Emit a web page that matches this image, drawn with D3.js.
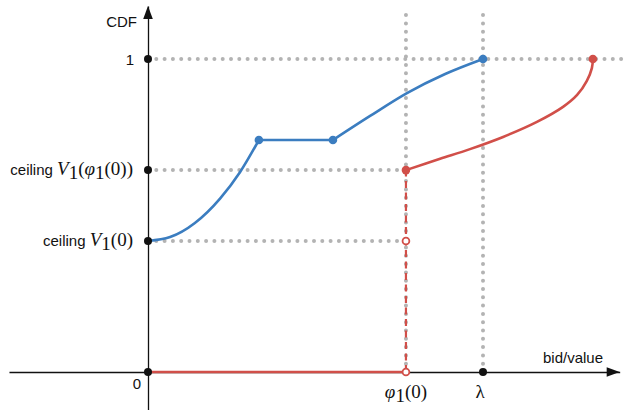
<!DOCTYPE html>
<html>
<head>
<meta charset="utf-8">
<script src="https://cdn.jsdelivr.net/npm/d3@7"></script>
<style>
  html, body { margin: 0; padding: 0; background: #fff; }
  svg { display: block; }
  .sans { font-family: "Liberation Sans", Arial, Helvetica, sans-serif; font-size: 15px; fill: #111; }
  .math { font-family: "Liberation Serif", "DejaVu Serif", serif; font-size: 19px; fill: #111; }
</style>
</head>
<body>
<svg id="chart" width="632" height="410"></svg>
<script>
// ---- data ----
const phi0 = 0.770;        // φ1(0) on the bid/value axis
const lambda = 1.0;        // λ
const ceilV0 = 0.4185;     // ceiling V1(0)
const ceilVphi = 0.645;    // ceiling V1(φ1(0))

const yTickValues = [0, ceilV0, ceilVphi, 1];
const xTickValues = [0, phi0, lambda];

// blue CDF: rising convex part, flat part, concave part
const blueRise = [[0, 0.4185], [0.066, 0.431], [0.140, 0.476], [0.215, 0.554], [0.275, 0.639], [0.331, 0.741]];
const blueFlat = [[0.331, 0.741], [0.552, 0.741]];
const blueTop  = [[0.552, 0.741], [0.663, 0.818], [0.773, 0.891], [0.887, 0.952], [1.0, 1.0]];
const blueDots = [[0.331, 0.741], [0.552, 0.741], [1.0, 1.0]];

// red CDF
const redBase  = [[0, 0], [0.770, 0]];
const redJump  = [[0.770, 0], [0.770, 0.645]];
const redCurve = [[0.770, 0.645], [0.872, 0.681], [0.961, 0.712], [1.060, 0.751], [1.161, 0.799],
                  [1.239, 0.847], [1.281, 0.885], [1.310, 0.930], [1.325, 0.971], [1.328, 1.0]];
const redFilled = [[0.770, 0.645], [1.328, 1.0]];
const redOpen   = [[0.770, 0.4185], [0.770, 0]];

// axis extents in data units
const xAxisExtent = [-0.415, 1.408];
const yAxisExtent = [-0.121, 1.169];
const guideTop = 1.163;
const guideRight = 1.43;

// ---- drawing ----
const svg = d3.select("#chart");
const x = d3.scaleLinear().domain([0, 1]).range([148, 483]);
const y = d3.scaleLinear().domain([0, 1]).range([372, 59]);

const BLUE = "#3b7dc0", RED = "#d14f49", GRAY = "#b3b3b3";
const line = d3.line().x(d => x(d[0])).y(d => y(d[1]));
const lineMX = d3.line().x(d => x(d[0])).y(d => y(d[1])).curve(d3.curveMonotoneX);
const lineCR = d3.line().x(d => x(d[0])).y(d => y(d[1])).curve(d3.curveCatmullRom.alpha(0.5));

// gray dotted guides
const guides = svg.append("g")
  .attr("fill", "none").attr("stroke", GRAY).attr("stroke-width", 4)
  .attr("stroke-linecap", "round").attr("stroke-dasharray", "0 8.3");
[phi0, lambda].forEach(v => guides.append("path").attr("d", line([[v, 0], [v, guideTop]])));
[[ceilV0, phi0], [ceilVphi, phi0], [1, guideRight]].forEach(([yy, xe]) =>
  guides.append("path").attr("d", line([[0, yy], [xe, yy]])));

// axes (lines via d3 axes, tick marks hidden)
const xScaleFull = x.copy().domain(xAxisExtent).range(xAxisExtent.map(x));
const yScaleFull = y.copy().domain(yAxisExtent).range(yAxisExtent.map(y));
svg.append("g").attr("transform", `translate(0,${y(0)})`)
  .call(d3.axisBottom(xScaleFull).tickValues([]).tickSizeOuter(0))
  .call(g => g.select(".domain").attr("stroke", "#111").attr("stroke-width", 1.3));
svg.append("g").attr("transform", `translate(${x(0)},0)`)
  .call(d3.axisLeft(yScaleFull).tickValues([]).tickSizeOuter(0))
  .call(g => g.select(".domain").attr("stroke", "#111").attr("stroke-width", 1.3));

// arrowheads
const xr = x(xAxisExtent[1]), yt = y(yAxisExtent[1]);
svg.append("path").attr("fill", "#111")
  .attr("d", `M${xr},${y(0)} L${xr - 13},${y(0) - 4.8} L${xr - 13},${y(0) + 4.8} Z`);
svg.append("path").attr("fill", "#111")
  .attr("d", `M${x(0)},${yt} L${x(0) - 4.8},${yt + 13} L${x(0) + 4.8},${yt + 13} Z`);

// red series
svg.append("path").attr("d", line(redBase)).attr("fill", "none").attr("stroke", RED).attr("stroke-width", 2.4);
svg.append("path").attr("d", line(redJump)).attr("fill", "none").attr("stroke", RED).attr("stroke-width", 2.2)
  .attr("stroke-dasharray", "7 4.5");
svg.append("path").attr("d", lineCR(redCurve))
  .attr("fill", "none").attr("stroke", RED).attr("stroke-width", 2.6);

// blue series
svg.append("path").attr("d", lineMX(blueRise))
  .attr("fill", "none").attr("stroke", BLUE).attr("stroke-width", 2.6);
svg.append("path").attr("d", line(blueFlat))
  .attr("fill", "none").attr("stroke", BLUE).attr("stroke-width", 2.6);
svg.append("path").attr("d", lineMX(blueTop))
  .attr("fill", "none").attr("stroke", BLUE).attr("stroke-width", 2.6);

// points
svg.selectAll(".bdot").data(blueDots).join("circle")
  .attr("cx", d => x(d[0])).attr("cy", d => y(d[1])).attr("r", 4.3).attr("fill", BLUE);
svg.selectAll(".rdot").data(redFilled).join("circle")
  .attr("cx", d => x(d[0])).attr("cy", d => y(d[1])).attr("r", 4.3).attr("fill", RED);
svg.selectAll(".ropen").data(redOpen).join("circle")
  .attr("cx", d => x(d[0])).attr("cy", d => y(d[1])).attr("r", 3.4)
  .attr("fill", "#fff").attr("stroke", RED).attr("stroke-width", 1.8);

// axis tick dots (black)
svg.selectAll(".ytick").data(yTickValues).join("circle")
  .attr("cx", x(0)).attr("cy", d => y(d)).attr("r", 4).attr("fill", "#111");
svg.append("circle").attr("cx", x(lambda)).attr("cy", y(0)).attr("r", 4).attr("fill", "#111");

// ---- labels ----
svg.append("text").attr("class", "sans").attr("x", 137).attr("y", 27).attr("text-anchor", "end").text("CDF");
svg.append("text").attr("class", "sans").attr("x", 603).attr("y", 363).attr("text-anchor", "end").text("bid/value");
svg.append("text").attr("class", "sans").attr("x", 134).attr("y", y(1) + 5.5).attr("text-anchor", "end").text("1");
svg.append("text").attr("class", "sans").attr("x", 141).attr("y", y(0) + 17).attr("text-anchor", "end").text("0");

function mathLabel(parent, xPos, yPos, anchor, prefix, parts) {
  const t = parent.append("text").attr("x", xPos).attr("y", yPos).attr("text-anchor", anchor);
  if (prefix) t.append("tspan").attr("class", "sans").text(prefix);
  parts.forEach(p => {
    const s = t.append("tspan").attr("class", "math").text(p.t);
    if (p.it) s.attr("font-style", "italic");
    if (p.sub) s.attr("font-size", 13).attr("dy", 4);
    if (p.back) s.attr("dy", -4);
  });
  return t;
}
mathLabel(svg, 133, y(ceilVphi) + 5, "end", "ceiling ", [
  {t: "V", it: true}, {t: "1", sub: true}, {t: "(", back: true}, {t: "φ", it: true}, {t: "1", sub: true},
  {t: "(0))", back: true}]);
mathLabel(svg, 133, y(ceilV0) + 5, "end", "ceiling ", [
  {t: "V", it: true}, {t: "1", sub: true}, {t: "(0)", back: true}]);
mathLabel(svg, x(phi0), y(0) + 26, "middle", null, [
  {t: "φ", it: true}, {t: "1", sub: true}, {t: "(0)", back: true}]);
mathLabel(svg, x(lambda) - 3, y(0) + 26, "middle", null, [{t: "λ"}]);
</script>
</body>
</html>
